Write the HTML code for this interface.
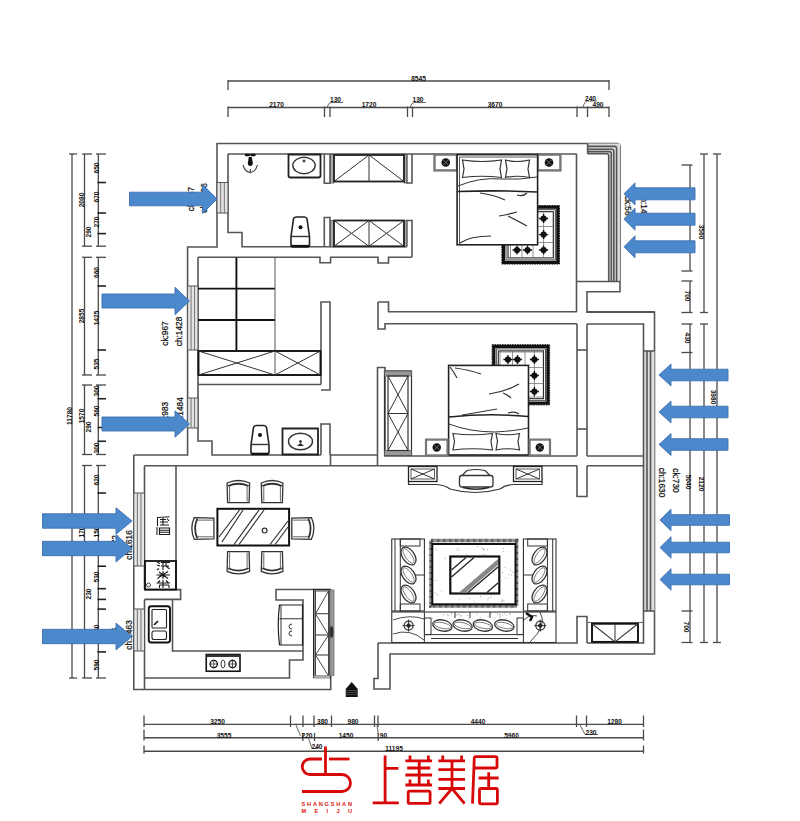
<!DOCTYPE html>
<html><head><meta charset="utf-8"><style>
html,body{margin:0;padding:0;background:#fff;}
svg{display:block;}
.w line,.w polyline,.w polygon,.w rect,.w path{fill:none;stroke:#555;stroke-width:1.6;}
.dim line{stroke:#4a4a4a;stroke-width:1.3;}
.tick line{stroke:#222;stroke-width:1.6;}
.wn rect{fill:#e4e4e4;stroke:#555;stroke-width:1;}
.wn line{stroke:#666;stroke-width:0.9;}
.f line,.f polyline,.f polygon,.f rect,.f path,.f circle,.f ellipse{fill:none;stroke:#333;stroke-width:1;}
.f .thick{stroke:#222;stroke-width:1.8;}
.fd line,.fd polyline,.fd rect,.fd path{fill:none;stroke:#111;stroke-width:1.8;}
.ar{fill:#4b88cc;stroke:#3d70b0;stroke-width:0.9;}
.t{font-family:"Liberation Sans",sans-serif;fill:#111;text-anchor:middle;font-weight:bold;}
.red line,.red path,.red polyline,.red rect{fill:none;stroke:#d80808;stroke-width:2.8;stroke-linecap:butt;}
</style></head><body>
<svg width="800" height="821" viewBox="0 0 800 821">
<g class="dim">
<line x1="228" y1="81" x2="609" y2="81"/>
<line x1="228" y1="80" x2="228" y2="90"/>
<line x1="609" y1="80" x2="609" y2="90"/>
<line x1="228" y1="107.5" x2="609" y2="107.5"/>
<line x1="228" y1="106.5" x2="228" y2="117"/>
<line x1="324.5" y1="106.5" x2="324.5" y2="117"/>
<line x1="330" y1="106.5" x2="330" y2="117"/>
<line x1="407.5" y1="106.5" x2="407.5" y2="117"/>
<line x1="412.5" y1="106.5" x2="412.5" y2="117"/>
<line x1="577" y1="106.5" x2="577" y2="117"/>
<line x1="587.5" y1="106.5" x2="587.5" y2="117"/>
<line x1="609" y1="106.5" x2="609" y2="117"/>
<path d="M327,107.5 Q328.5,102.5 331,102.5 H343 M410,107.5 Q411.5,102.5 414,102.5 H426 M583,107.5 Q584.5,101 587,101 H597" style="fill:none;stroke:#555;stroke-width:0.9"/>
</g>
<text x="418.5" y="81" class="t" font-size="6.6">8545</text>
<text x="276.5" y="107" class="t" font-size="6.6">2170</text>
<text x="335.5" y="102" class="t" font-size="6.6">130</text>
<text x="369" y="107" class="t" font-size="6.6">1720</text>
<text x="418" y="102" class="t" font-size="6.6">130</text>
<text x="495" y="107" class="t" font-size="6.6">3670</text>
<text x="590.5" y="100.5" class="t" font-size="6.6">240</text>
<text x="598" y="106.5" class="t" font-size="6.6">490</text>
<g class="dim">
<line x1="144" y1="724.4" x2="643.5" y2="724.4"/>
<line x1="144" y1="737.75" x2="643.5" y2="737.75"/>
<line x1="144" y1="751.25" x2="643.5" y2="751.25"/>
<line x1="144" y1="715.5" x2="144" y2="727"/>
<line x1="290.5" y1="715.5" x2="290.5" y2="727"/>
<line x1="303" y1="715.5" x2="303" y2="727"/>
<line x1="314" y1="715.5" x2="314" y2="727"/>
<line x1="331.5" y1="715.5" x2="331.5" y2="727"/>
<line x1="374.5" y1="715.5" x2="374.5" y2="727"/>
<line x1="378" y1="715.5" x2="378" y2="727"/>
<line x1="576.5" y1="715.5" x2="576.5" y2="727"/>
<line x1="586.5" y1="715.5" x2="586.5" y2="727"/>
<line x1="643.5" y1="715.5" x2="643.5" y2="727"/>
<line x1="144" y1="729.5" x2="144" y2="740.5"/>
<line x1="144" y1="745.5" x2="144" y2="753.5"/>
<line x1="643.5" y1="729.5" x2="643.5" y2="740.5"/>
<line x1="643.5" y1="745.5" x2="643.5" y2="753.5"/>
</g>
<path d="M580,725 L585,734.5 H598 M296,725 L300.5,736 M308.5,738.5 L312,748.5 H318 M377,725 L378.5,735.5" style="fill:none;stroke:#555;stroke-width:0.9"/>
<line x1="302.8" y1="733" x2="302.8" y2="741" style="stroke:#4a4a4a;stroke-width:1.3"/>
<line x1="314.5" y1="733" x2="314.5" y2="741" style="stroke:#4a4a4a;stroke-width:1.3"/>
<line x1="378.2" y1="733" x2="378.2" y2="741" style="stroke:#4a4a4a;stroke-width:1.3"/>
<text x="217.5" y="724" class="t" font-size="6.6">3250</text>
<text x="478" y="724" class="t" font-size="6.6">4440</text>
<text x="614.5" y="724" class="t" font-size="6.6">1280</text>
<text x="322.5" y="724" class="t" font-size="6.6">380</text>
<text x="353" y="724" class="t" font-size="6.6">980</text>
<text x="224" y="737.5" class="t" font-size="6.6">3555</text>
<text x="307" y="737.5" class="t" font-size="6.6">220</text>
<text x="346" y="737.5" class="t" font-size="6.6">1450</text>
<text x="383.5" y="737.5" class="t" font-size="6.6">90</text>
<text x="511.5" y="737.5" class="t" font-size="6.6">5960</text>
<text x="591" y="734.5" class="t" font-size="6.6">230</text>
<text x="317" y="749" class="t" font-size="6.6">240</text>
<text x="394" y="750.5" class="t" font-size="6.6">11195</text>
<g class="dim">
<line x1="72" y1="154" x2="72" y2="678"/>
<line x1="69" y1="154" x2="77" y2="154"/>
<line x1="69" y1="678" x2="77" y2="678"/>
<line x1="84.5" y1="154" x2="84.5" y2="246.2"/>
<line x1="84.5" y1="257.3" x2="84.5" y2="375"/>
<line x1="84.5" y1="385" x2="84.5" y2="454.5"/>
<line x1="84.5" y1="465.5" x2="84.5" y2="678"/>
<line x1="98.3" y1="154" x2="98.3" y2="246.2"/>
<line x1="98.3" y1="257.3" x2="98.3" y2="375"/>
<line x1="98.3" y1="385" x2="98.3" y2="454.5"/>
<line x1="98.3" y1="465.5" x2="98.3" y2="678"/>
<line x1="82" y1="154" x2="92" y2="154"/>
<line x1="96" y1="154" x2="106" y2="154"/>
<line x1="82" y1="246.2" x2="92" y2="246.2"/>
<line x1="96" y1="246.2" x2="106" y2="246.2"/>
<line x1="82" y1="257.3" x2="92" y2="257.3"/>
<line x1="96" y1="257.3" x2="106" y2="257.3"/>
<line x1="82" y1="375" x2="92" y2="375"/>
<line x1="96" y1="375" x2="106" y2="375"/>
<line x1="82" y1="385" x2="92" y2="385"/>
<line x1="96" y1="385" x2="106" y2="385"/>
<line x1="82" y1="454.5" x2="92" y2="454.5"/>
<line x1="96" y1="454.5" x2="106" y2="454.5"/>
<line x1="82" y1="465.5" x2="92" y2="465.5"/>
<line x1="96" y1="465.5" x2="106" y2="465.5"/>
<line x1="82" y1="678" x2="92" y2="678"/>
<line x1="96" y1="678" x2="106" y2="678"/>
</g>
<g class="tick">
<line x1="97.5" y1="182.5" x2="106" y2="182.5"/>
<line x1="97.5" y1="213" x2="106" y2="213"/>
<line x1="97.5" y1="233.6" x2="106" y2="233.6"/>
<line x1="97.5" y1="286" x2="106" y2="286"/>
<line x1="97.5" y1="350" x2="106" y2="350"/>
<line x1="97.5" y1="398.75" x2="106" y2="398.75"/>
<line x1="97.5" y1="427.5" x2="106" y2="427.5"/>
<line x1="97.5" y1="441.25" x2="106" y2="441.25"/>
<line x1="97.5" y1="493" x2="106" y2="493"/>
<line x1="97.5" y1="566.2" x2="106" y2="566.2"/>
<line x1="97.5" y1="588.7" x2="106" y2="588.7"/>
<line x1="97.5" y1="599.4" x2="106" y2="599.4"/>
<line x1="97.5" y1="609.1" x2="106" y2="609.1"/>
<line x1="97.5" y1="651.9" x2="106" y2="651.9"/>
</g>
<text x="84" y="200" class="t" font-size="6.6" transform="rotate(-90 84 200)">2080</text>
<text x="99" y="168" class="t" font-size="6.6" transform="rotate(-90 99 168)">650</text>
<text x="99" y="197" class="t" font-size="6.6" transform="rotate(-90 99 197)">670</text>
<text x="99" y="222" class="t" font-size="6.6" transform="rotate(-90 99 222)">270</text>
<text x="91" y="232" class="t" font-size="6.6" transform="rotate(-90 91 232)">290</text>
<text x="99" y="272.5" class="t" font-size="6.6" transform="rotate(-90 99 272.5)">660</text>
<text x="84" y="316" class="t" font-size="6.6" transform="rotate(-90 84 316)">2855</text>
<text x="99" y="318" class="t" font-size="6.6" transform="rotate(-90 99 318)">1425</text>
<text x="99" y="364" class="t" font-size="6.6" transform="rotate(-90 99 364)">535</text>
<text x="99" y="391" class="t" font-size="6.6" transform="rotate(-90 99 391)">300</text>
<text x="99" y="411" class="t" font-size="6.6" transform="rotate(-90 99 411)">560</text>
<text x="84" y="416" class="t" font-size="6.6" transform="rotate(-90 84 416)">1570</text>
<text x="91" y="427" class="t" font-size="6.6" transform="rotate(-90 91 427)">290</text>
<text x="99" y="448" class="t" font-size="6.6" transform="rotate(-90 99 448)">300</text>
<text x="71.5" y="416" class="t" font-size="6.6" transform="rotate(-90 71.5 416)">11780</text>
<text x="99" y="480" class="t" font-size="6.6" transform="rotate(-90 99 480)">620</text>
<text x="84" y="532" class="t" font-size="6.6" transform="rotate(-90 84 532)">170</text>
<text x="99" y="532" class="t" font-size="6.6" transform="rotate(-90 99 532)">150</text>
<text x="99" y="577" class="t" font-size="6.6" transform="rotate(-90 99 577)">530</text>
<text x="91" y="594" class="t" font-size="6.6" transform="rotate(-90 91 594)">230</text>
<text x="99" y="630" class="t" font-size="6.6" transform="rotate(-90 99 630)">530</text>
<text x="99" y="665" class="t" font-size="6.6" transform="rotate(-90 99 665)">590</text>
<g class="dim">
<line x1="690" y1="165" x2="690" y2="271"/>
<line x1="690" y1="281" x2="690" y2="312.5"/>
<line x1="690" y1="324" x2="690" y2="642.5"/>
<line x1="704" y1="154" x2="704" y2="312.5"/>
<line x1="704" y1="324" x2="704" y2="642.5"/>
<line x1="717" y1="154" x2="717" y2="642.5"/>
<line x1="681.5" y1="165" x2="692.5" y2="165"/>
<line x1="681.5" y1="271" x2="692.5" y2="271"/>
<line x1="681.5" y1="281" x2="692.5" y2="281"/>
<line x1="681.5" y1="312.5" x2="692.5" y2="312.5"/>
<line x1="681.5" y1="324" x2="692.5" y2="324"/>
<line x1="681.5" y1="352.5" x2="692.5" y2="352.5"/>
<line x1="681.5" y1="611" x2="692.5" y2="611"/>
<line x1="681.5" y1="642.5" x2="692.5" y2="642.5"/>
<line x1="700" y1="154" x2="708" y2="154"/>
<line x1="700" y1="312.5" x2="708" y2="312.5"/>
<line x1="700" y1="324" x2="708" y2="324"/>
<line x1="700" y1="642.5" x2="708" y2="642.5"/>
<line x1="713" y1="154" x2="721" y2="154"/>
<line x1="713" y1="642.5" x2="721" y2="642.5"/>
</g>
<text x="699" y="232" class="t" font-size="6.6" transform="rotate(90 699 232)">3560</text>
<text x="685" y="296" class="t" font-size="6.6" transform="rotate(90 685 296)">700</text>
<text x="685" y="338" class="t" font-size="6.6" transform="rotate(90 685 338)">430</text>
<text x="710.5" y="397" class="t" font-size="6.6" transform="rotate(90 710.5 397)">3980</text>
<text x="685.5" y="482" class="t" font-size="6.6" transform="rotate(90 685.5 482)">5040</text>
<text x="698.5" y="484" class="t" font-size="6.6" transform="rotate(90 698.5 484)">2120</text>
<text x="684" y="627" class="t" font-size="6.6" transform="rotate(90 684 627)">700</text>
<g class="w">
<path d="M133.8,455 L187.6,455 L187.6,247 L217,247 L217,143.5 L617,143.5 Q620,143.5 620,146.5 L620,291.7 L587,291.7 L587,312.2 L654.5,312.2 L654.5,654 L390,654 L390,689 L374,689 L374,678.5 L378,678.5 L378,643"/>
<polyline points="330.7,589.5 330.7,689.5 133.8,689.5 133.8,455"/>
<polyline points="228,154 576.5,154"/>
<polyline points="228,154 228,232.5 242,232.5 242,246.8 406.8,246.8"/>
<polyline points="324.3,154 324.3,183.2 330,183.2 330,154"/>
<polyline points="406.8,154 406.8,183 412,183 412,154"/>
<polyline points="324.3,246.8 324.3,217.5 330,217.5 330,246.8"/>
<polyline points="406.8,246.8 406.8,220.5 412,220.5 412,257"/>
<polyline points="198,257.3 320,257.3 320,262.8 330.6,262.8 330.6,257.3 378,257.3 378,263 388.5,263 388.5,257.3 412,257.3"/>
<path d="M587.6,143.5 L620,143.5 L620,281.5 L608.7,281.5 L608.7,153.8 L587.6,153.8 Z" style="fill:#dcdcdc;stroke:none"/>
<rect x="643.5" y="351" width="11" height="260" style="fill:#dcdcdc;stroke:none"/>
<polyline points="576.5,153.8 576.5,312.2"/>
<polyline points="576.5,281.5 620,281.5"/>
<line x1="587.6" y1="143.5" x2="587.6" y2="153.8"/>
<path d="M587.6,146.4 L614.6,146.4 Q616.6,146.4 616.6,148.4 L616.6,281.5" />
<path d="M587.6,149.2 L611.8,149.2 Q613.8,149.2 613.8,151.2 L613.8,281.5" />
<path d="M587.6,151.6 L609.3,151.6 Q611.3,151.6 611.3,153.6 L611.3,281.5" />
<path d="M587.6,153.8 L606.7,153.8 Q608.7,153.8 608.7,155.8 L608.7,281.5" />
<polyline points="198,257.3 198,441 212,441 212,455 321,455"/>
<polyline points="198,384.5 321,384.5"/>
<polyline points="321,384.5 321,302 330,302 330,390 321,390"/>
<polyline points="321,455 321,424 330,424 330,455"/>
<polyline points="330,455 377.5,455"/>
<line x1="330.5" y1="455" x2="330.5" y2="465.7"/>
<polyline points="144.5,689 144.5,599.4"/>
<line x1="144.5" y1="465.7" x2="577" y2="465.7"/>
<polyline points="144.5,465.7 144.5,589.6"/>
<polyline points="377.5,465.7 377.5,367.5 385,367.5 385,456 577,456"/>
<polyline points="378,302 388.5,302 388.5,311.7 576.5,311.7"/>
<polyline points="378,302 378,329 385,329 385,323.7 577,323.7"/>
<polyline points="577,323.7 577,456"/>
<polyline points="587,324 587,456"/>
<line x1="577" y1="350" x2="587" y2="350"/>
<line x1="577" y1="429" x2="587" y2="429"/>
<polyline points="577,465.7 577,496.5 587,496.5 587,465.7"/>
<polyline points="587,311.7 654.5,311.7"/>
<polyline points="587,324 643.5,324 643.5,351"/>
<line x1="587" y1="456" x2="643.5" y2="456"/>
<line x1="587" y1="465.7" x2="643.5" y2="465.7"/>
<line x1="643.5" y1="351" x2="643.5" y2="611"/>
<line x1="647" y1="351" x2="647" y2="611"/>
<line x1="650.5" y1="351" x2="650.5" y2="611"/>
<line x1="643.5" y1="351" x2="654.5" y2="351"/>
<line x1="643.5" y1="611" x2="654.5" y2="611"/>
<polyline points="643.5,611 643.5,643 587,643"/>
<polyline points="378,643 577,643 577,616.5 587,616.5 587,643"/>
<polyline points="144.5,589.6 180.6,589.6 180.6,599.4 144.5,599.4"/>
<polyline points="172.5,599.4 172.5,651 303,651 303,600 276,600 276,589.5 313.8,589.5"/>
<polyline points="303,651 303,660 289.5,660 289.5,678 144.5,678"/>
<line x1="176" y1="465.7" x2="176" y2="589.6"/>
</g>
<g class="wn">
<rect x="217" y="182.5" width="11" height="30.5"/>
<line x1="220.66666666666666" y1="182.5" x2="220.66666666666666" y2="213"/>
<line x1="224.33333333333334" y1="182.5" x2="224.33333333333334" y2="213"/>
<rect x="187.6" y="286" width="10.4" height="64"/>
<line x1="191.06666666666666" y1="286" x2="191.06666666666666" y2="350"/>
<line x1="194.53333333333333" y1="286" x2="194.53333333333333" y2="350"/>
<rect x="187.6" y="398" width="10.4" height="30"/>
<line x1="191.06666666666666" y1="398" x2="191.06666666666666" y2="428"/>
<line x1="194.53333333333333" y1="398" x2="194.53333333333333" y2="428"/>
<rect x="133.8" y="493" width="10.7" height="73"/>
<line x1="137.36666666666667" y1="493" x2="137.36666666666667" y2="566"/>
<line x1="140.93333333333334" y1="493" x2="140.93333333333334" y2="566"/>
<rect x="133.8" y="609" width="10.7" height="42"/>
<line x1="137.36666666666667" y1="609" x2="137.36666666666667" y2="651"/>
<line x1="140.93333333333334" y1="609" x2="140.93333333333334" y2="651"/>
</g>
<g class="f">
<path d="M288.5,154.5 L320.5,154.5 L320.5,175.5 Q320.5,177.5 318.5,177.5 L290.5,177.5 Q288.5,177.5 288.5,175.5 Z" class="thick"/>
<ellipse cx="304" cy="165.5" rx="11.2" ry="8.2" style="stroke-width:1.4"/>
<circle cx="304" cy="161" r="1" style="fill:#222"/>
<path d="M296.5,217 L304.5,217 Q306.5,217 307,219 L309.5,236.5 L309.5,245 Q309.5,247 307.5,247 L293,247 Q291,247 291,245 L291,236.5 L293.5,219 Q294,217 296.5,217 Z" style="stroke-width:1.6;stroke:#222"/>
<line x1="291" y1="236.5" x2="309.5" y2="236.5" style="stroke-width:1.4"/>
<line x1="291.5" y1="246" x2="309" y2="246" style="stroke-width:2.2;stroke:#111"/>
<circle cx="300.5" cy="227.3" r="2" style="fill:#111;stroke:none"/>
<path d="M246,155 h3 M251.5,155 h3" style="stroke:#111;stroke-width:2.4;stroke-linecap:round"/>
<path d="M248.8,157 L251.8,157 L252.8,163 Q252.8,166 250.3,166 Q247.8,166 247.8,163 Z" style="fill:#111;stroke:none"/>
<path d="M243,165 Q245,172 250.3,172.5 Q255.5,172 257.5,165 M250.3,169 V173.5" style="stroke-width:1.1;stroke:#444"/>
<rect x="330.6" y="154.5" width="3.4" height="28.5" style="fill:#aaa;stroke:#555;stroke-width:0.8"/>
<rect x="404" y="154.5" width="2.8" height="28.5" style="fill:#aaa;stroke:#555;stroke-width:0.8"/>
<rect x="334" y="155" width="70" height="26.5" style="stroke:#222;stroke-width:1.8"/>
<line x1="369" y1="155" x2="369" y2="181.5"/>
<line x1="334" y1="181.5" x2="369" y2="155"/>
<line x1="369" y1="155" x2="404" y2="181.5"/>
<rect x="330.6" y="220.5" width="3.4" height="26.3" style="fill:#aaa;stroke:#555;stroke-width:0.8"/>
<rect x="404" y="220.5" width="2.8" height="26.3" style="fill:#aaa;stroke:#555;stroke-width:0.8"/>
<rect x="334" y="220.5" width="70" height="25.8" style="stroke:#222;stroke-width:1.8"/>
<line x1="369" y1="220.5" x2="369" y2="246.3"/>
<line x1="334" y1="220.5" x2="369" y2="246.3"/>
<line x1="369" y1="220.5" x2="334" y2="246.3"/>
<line x1="369" y1="220.5" x2="404" y2="246.3"/>
<line x1="404" y1="220.5" x2="369" y2="246.3"/>
</g>
<g class="f">
<rect x="434.5" y="154.6" width="22.5" height="15.8" style="fill:#fff;stroke:#777;stroke-width:2.4"/>
<circle cx="445.75" cy="162.5" r="4.3" style="fill:#111;stroke:none"/>
<path d="M442.75,159.5l6,6M448.75,159.5l-6,6" style="stroke:#aaa;stroke-width:0.6"/>
<rect x="537.6" y="154.6" width="22.8" height="15.8" style="fill:#fff;stroke:#777;stroke-width:2.4"/>
<circle cx="549.0" cy="162.5" r="4.3" style="fill:#111;stroke:none"/>
<path d="M546.0,159.5l6,6M552.0,159.5l-6,6" style="stroke:#aaa;stroke-width:0.6"/>
<rect x="503.5" y="207.2" width="54.299999999999955" height="55.19999999999999" style="fill:#fff;stroke:#111;stroke-width:3.2"/>
<rect x="501.8" y="205.5" width="57.69999999999995" height="58.59999999999999" style="fill:none;stroke:#111;stroke-width:1;stroke-dasharray:1.5 1"/>
<rect x="506" y="209.7" width="49.299999999999955" height="50.19999999999999" style="fill:none;stroke:#333;stroke-width:0.9"/>
<rect x="508" y="211.7" width="45.299999999999955" height="46.19999999999999" style="fill:none;stroke:#222;stroke-width:1.1"/>
<path d="M510.5,211.7V257.9M522,211.7V257.9M533,211.7V257.9M543.6,211.7V257.9M508,226.5H553.3M508,242.5H553.3" style="fill:none;stroke:#777;stroke-width:0.8"/>
<circle cx="543.6" cy="218.5" r="3.1" style="fill:#111;stroke:none"/>
<path d="M539.1,218.5H548.1M543.6,214.0V223.0" style="fill:none;stroke:#111;stroke-width:1.3"/>
<circle cx="543.6" cy="234.6" r="3.1" style="fill:#111;stroke:none"/>
<path d="M539.1,234.6H548.1M543.6,230.1V239.1" style="fill:none;stroke:#111;stroke-width:1.3"/>
<circle cx="543.6" cy="250" r="3.1" style="fill:#111;stroke:none"/>
<path d="M539.1,250H548.1M543.6,245.5V254.5" style="fill:none;stroke:#111;stroke-width:1.3"/>
<circle cx="517" cy="250" r="3.1" style="fill:#111;stroke:none"/>
<path d="M512.5,250H521.5M517,245.5V254.5" style="fill:none;stroke:#111;stroke-width:1.3"/>
<circle cx="527.5" cy="250" r="3.1" style="fill:#111;stroke:none"/>
<path d="M523.0,250H532.0M527.5,245.5V254.5" style="fill:none;stroke:#111;stroke-width:1.3"/>
<rect x="457.1" y="154.6" width="80.5" height="90.2" style="fill:#fff;stroke:#222;stroke-width:1.6"/>
<line x1="459.5" y1="157" x2="459.5" y2="244.5" style="stroke:#555"/>
<line x1="459.5" y1="157" x2="537.6" y2="157" style="stroke:#555"/>
<path d="M462.5,160 Q482,163 501.5,160 L500,169 L501.5,177.5 Q482,175 462.5,177.5 L464,169 Z" style="stroke-width:1.2"/>
<path d="M505.5,160 Q517,163 529.5,160 L528,169 L529.5,177.5 Q517,175 505.5,177.5 L507,169 Z" style="stroke-width:1.2"/>
<path d="M458,186 Q480,177 500,179 Q520,180 537,177" style="stroke-width:1"/>
<path d="M458,191.5 Q500,190 537,192" style="stroke-width:1.6;stroke:#222"/>
<path d="M480,193 Q495,195 505,200 M517,195 Q523,197 527,193 M499,216 Q510,214 517,212 M508,216 Q520,222 527,226 M460,243 Q470,236 491,236" style="stroke-width:1.2"/>
</g>
<g class="f">
<g style="stroke:#111">
<line x1="236.4" y1="257.6" x2="236.4" y2="351" style="stroke:#111;stroke-width:1.9"/>
<line x1="198" y1="288.6" x2="275" y2="288.6" style="stroke:#111;stroke-width:1.9"/>
<line x1="198" y1="320" x2="275" y2="320" style="stroke:#111;stroke-width:1.9"/>
</g>
<line x1="275" y1="257.6" x2="275" y2="375" style="stroke:#555;stroke-width:1"/>
<rect x="198.5" y="351" width="122.0" height="24" style="stroke:#111;stroke-width:1.9"/>
<line x1="198.5" y1="351" x2="275" y2="375"/>
<line x1="198.5" y1="375" x2="275" y2="351"/>
<line x1="275" y1="351" x2="320.5" y2="375"/>
<line x1="275" y1="375" x2="320.5" y2="351"/>
<path d="M256.5,425.5 L264,425.5 Q266,425.5 266.5,427.5 L269,445 L269,452 Q269,454.5 267,454.5 L253,454.5 Q251,454.5 251,452 L251,445 L253.5,427.5 Q254,425.5 256.5,425.5 Z" style="stroke-width:1.6;stroke:#222"/>
<line x1="251" y1="444.5" x2="269" y2="444.5" style="stroke-width:1.4"/>
<line x1="251.5" y1="453.8" x2="268.5" y2="453.8" style="stroke-width:2.2;stroke:#111"/>
<circle cx="260" cy="435" r="2" style="fill:#111;stroke:none"/>
<path d="M282.5,428.5 L318,428.5 L318,454.5 L282.5,454.5 Z" style="stroke:#222;stroke-width:1.8"/>
<ellipse cx="300.5" cy="441.5" rx="12" ry="8.2" style="stroke-width:1.4"/>
<circle cx="300.5" cy="441.5" r="1" style="fill:#222"/>
<path d="M297,446 L300.5,443 L304,446 Z" style="fill:#222;stroke:none"/>
</g>
<g class="f">
<rect x="384.5" y="371" width="27.0" height="84.4" style="stroke:#333;stroke-width:1.2"/>
<rect x="384.5" y="371" width="27.0" height="5" style="fill:#999;stroke:#555;stroke-width:0.8"/>
<rect x="384.5" y="450.5" width="27.0" height="4.9" style="fill:#999;stroke:#555;stroke-width:0.8"/>
<rect x="388" y="376" width="20" height="74.5" style="stroke:#333;stroke-width:1.2"/>
<line x1="388" y1="413.5" x2="408" y2="413.5"/>
<line x1="388" y1="376" x2="408" y2="413.5"/>
<line x1="408" y1="376" x2="388" y2="413.5"/>
<line x1="388" y1="413.5" x2="408" y2="450.5"/>
<line x1="408" y1="413.5" x2="388" y2="450.5"/>
<rect x="493.8" y="346.4" width="54.099999999999966" height="56.80000000000001" style="fill:#fff;stroke:#111;stroke-width:3.2"/>
<rect x="492.1" y="344.7" width="57.499999999999964" height="60.20000000000001" style="fill:none;stroke:#111;stroke-width:1;stroke-dasharray:1.5 1"/>
<rect x="496.3" y="348.9" width="49.099999999999966" height="51.80000000000001" style="fill:none;stroke:#333;stroke-width:0.9"/>
<rect x="498.3" y="350.9" width="45.099999999999966" height="47.80000000000001" style="fill:none;stroke:#222;stroke-width:1.1"/>
<path d="M500,350.9V398.7M512.5,350.9V398.7M525,350.9V398.7M534.4,350.9V398.7M498.3,352H543.4M498.3,367.5H543.4M498.3,383.5H543.4M498.3,397H543.4" style="fill:none;stroke:#777;stroke-width:0.8"/>
<circle cx="507.9" cy="359.5" r="3.1" style="fill:#111;stroke:none"/>
<path d="M503.4,359.5H512.4M507.9,355.0V364.0" style="fill:none;stroke:#111;stroke-width:1.3"/>
<circle cx="517.5" cy="359.5" r="3.1" style="fill:#111;stroke:none"/>
<path d="M513.0,359.5H522.0M517.5,355.0V364.0" style="fill:none;stroke:#111;stroke-width:1.3"/>
<circle cx="534.4" cy="359.5" r="3.1" style="fill:#111;stroke:none"/>
<path d="M529.9,359.5H538.9M534.4,355.0V364.0" style="fill:none;stroke:#111;stroke-width:1.3"/>
<circle cx="534.4" cy="375.5" r="3.1" style="fill:#111;stroke:none"/>
<path d="M529.9,375.5H538.9M534.4,371.0V380.0" style="fill:none;stroke:#111;stroke-width:1.3"/>
<circle cx="534.4" cy="391.5" r="3.1" style="fill:#111;stroke:none"/>
<path d="M529.9,391.5H538.9M534.4,387.0V396.0" style="fill:none;stroke:#111;stroke-width:1.3"/>
<rect x="448.6" y="365.4" width="79.9" height="89.6" style="fill:#fff;stroke:#222;stroke-width:1.6"/>
<path d="M449,417 Q490,413 528,416.5" style="stroke:#222;stroke-width:1.5"/>
<path d="M449,424 Q470,432 495,432 Q515,431 528,428" style="stroke-width:1"/>
<path d="M453,433.5 Q472,436 492.5,433.5 L491,441.5 L492.5,450 Q472,447.5 453,450 L454.5,441.5 Z" style="stroke-width:1.2"/>
<path d="M496,433.5 Q507,436 519.5,433.5 L518,441.5 L519.5,450 Q507,447.5 496,450 L497.5,441.5 Z" style="stroke-width:1.2"/>
<path d="M450,367 Q454,372 457,378 M455,368 Q470,370 481,374 M489,394 Q505,392 519,384 M503,393 Q508,395 511,398 M462,415 Q480,412 497,409 M508,413 Q515,411 519,414" style="stroke-width:1.2"/>
<rect x="426" y="439.6" width="21.5" height="15.8" style="fill:#fff;stroke:#777;stroke-width:2.2"/>
<circle cx="436.75" cy="447.5" r="4.2" style="fill:#111;stroke:none"/>
<path d="M433.75,444.5l6,6M439.75,444.5l-6,6" style="stroke:#aaa;stroke-width:0.6"/>
<rect x="529.6" y="439.6" width="20.4" height="15.8" style="fill:#fff;stroke:#777;stroke-width:2.2"/>
<circle cx="539.8" cy="447.5" r="4.2" style="fill:#111;stroke:none"/>
<path d="M536.8,444.5l6,6M542.8,444.5l-6,6" style="stroke:#aaa;stroke-width:0.6"/>
</g>
<g class="f">
<rect x="408.5" y="466.5" width="28.5" height="15.0" style="stroke:#222;stroke-width:1.3"/>
<line x1="411" y1="469" x2="434.5" y2="479"/>
<line x1="434.5" y1="469" x2="411" y2="479"/>
<rect x="411" y="469" width="23.5" height="10" style="stroke-width:0.8"/>
<rect x="513.5" y="466.5" width="28.5" height="15.0" style="stroke:#222;stroke-width:1.3"/>
<line x1="516" y1="469" x2="539.5" y2="479"/>
<line x1="539.5" y1="469" x2="516" y2="479"/>
<rect x="516" y="469" width="23.5" height="10" style="stroke-width:0.8"/>
<path d="M408.5,481.5 L408.5,484.5 L436,484.5 Q445,485 450,489 Q475,496 500,489 Q505,485 514,484.5 L542,484.5 L542,481.5" style="stroke-width:1.2"/>
<path d="M462,475.5 L467,470.5 Q476,468.5 485,470.5 L490,475.5" style="stroke-width:1.2"/>
<rect x="459.5" y="475.5" width="33.5" height="11.5" rx="2.5" style="fill:#fff;stroke:#333;stroke-width:1.3"/>
<path d="M463,487.5 Q476,491 489,487.5" style="stroke:#222;stroke-width:1.6"/>
</g>
<g class="f">
<rect x="391.75" y="539" width="32.65" height="72" style="stroke:#333;stroke-width:1.1"/>
<line x1="395" y1="539" x2="395" y2="611"/>
<line x1="400.3" y1="539" x2="400.3" y2="611"/>
<rect x="400.3" y="539" width="19.7" height="7"/>
<rect x="400.3" y="604" width="19.7" height="7"/>
<line x1="400.3" y1="575" x2="424.4" y2="575"/>
<ellipse cx="408.5" cy="556" rx="6" ry="10" transform="rotate(-35 408.5 556)" style="fill:#fff;stroke-width:1.3"/>
<ellipse cx="408.5" cy="556" rx="3.2" ry="8.6" transform="rotate(-35 408.5 556)" style="stroke-width:0.7;stroke:#555"/>
<ellipse cx="408.5" cy="575" rx="6" ry="10" transform="rotate(-35 408.5 575)" style="fill:#fff;stroke-width:1.3"/>
<ellipse cx="408.5" cy="575" rx="3.2" ry="8.6" transform="rotate(-35 408.5 575)" style="stroke-width:0.7;stroke:#555"/>
<ellipse cx="408.5" cy="594" rx="6" ry="10" transform="rotate(-35 408.5 594)" style="fill:#fff;stroke-width:1.3"/>
<ellipse cx="408.5" cy="594" rx="3.2" ry="8.6" transform="rotate(-35 408.5 594)" style="stroke-width:0.7;stroke:#555"/>
<rect x="523.4" y="539" width="32.6" height="72" style="stroke:#333;stroke-width:1.1"/>
<line x1="552.7" y1="539" x2="552.7" y2="611"/>
<line x1="547.4" y1="539" x2="547.4" y2="611"/>
<rect x="527.7" y="539" width="19.7" height="7"/>
<rect x="527.7" y="604" width="19.7" height="7"/>
<line x1="523.4" y1="575" x2="547.4" y2="575"/>
<ellipse cx="539.5" cy="556" rx="6" ry="10" transform="rotate(35 539.5 556)" style="fill:#fff;stroke-width:1.3"/>
<ellipse cx="539.5" cy="556" rx="3.2" ry="8.6" transform="rotate(35 539.5 556)" style="stroke-width:0.7;stroke:#555"/>
<ellipse cx="539.5" cy="575" rx="6" ry="10" transform="rotate(35 539.5 575)" style="fill:#fff;stroke-width:1.3"/>
<ellipse cx="539.5" cy="575" rx="3.2" ry="8.6" transform="rotate(35 539.5 575)" style="stroke-width:0.7;stroke:#555"/>
<ellipse cx="539.5" cy="594" rx="6" ry="10" transform="rotate(35 539.5 594)" style="fill:#fff;stroke-width:1.3"/>
<ellipse cx="539.5" cy="594" rx="3.2" ry="8.6" transform="rotate(35 539.5 594)" style="stroke-width:0.7;stroke:#555"/>
<rect x="431" y="540.5" width="85.6" height="65.5" style="stroke:#222;stroke-width:3.5;stroke-dasharray:0.7 0.5"/>
<rect x="432.3" y="544" width="83.2" height="60.3" style="fill:#fff;stroke:#111;stroke-width:2"/>
<rect x="450.3" y="556.5" width="49.0" height="37.0" style="stroke:#111;stroke-width:2.2"/>
<path d="M451.5,570 L466,557.5 M451.5,577 L474,557.5 M461,592.5 L498,561 M468,592.5 L498,567 M487,592.5 L498,583" style="stroke:#222;stroke-width:1.3"/>
<polygon points="459,592.5 498,559 498,565 466,592.5" style="fill:#888;stroke:none"/>
<path d="M483.4,549.7h0.8M435.0,592.9h0.8M512.7,572.3h0.8M484.5,554.4h0.8M487.0,549.6h0.8M457.8,547.7h0.8M502.4,572.5h0.8M490.8,595.2h0.8M490.4,597.6h0.8M469.1,598.4h0.8M503.4,551.5h0.8M444.7,558.2h0.8M510.3,570.4h0.8M480.2,596.6h0.8M487.9,598.0h0.8M501.7,601.5h0.8M502.0,600.0h0.8M505.5,577.9h0.8M456.5,549.6h0.8M501.5,601.4h0.8M441.0,590.8h0.8M466.4,554.4h0.8M502.9,548.5h0.8M482.5,548.5h0.8M503.6,600.9h0.8M473.9,601.9h0.8M458.5,550.3h0.8M481.4,547.8h0.8M482.2,554.7h0.8M437.4,594.6h0.8M458.8,599.7h0.8M504.8,567.2h0.8M508.3,574.4h0.8M511.2,575.2h0.8M477.3,546.6h0.8M435.6,580.5h0.8M483.9,549.4h0.8M435.8,549.4h0.8M487.4,599.9h0.8" style="stroke:#777;stroke-width:0.8"/>
<rect x="391.75" y="612" width="164.25" height="30.5" style="stroke:#333;stroke-width:1.1"/>
<line x1="424.4" y1="612" x2="424.4" y2="642.5"/>
<line x1="523.4" y1="612" x2="523.4" y2="642.5"/>
<line x1="424.4" y1="634.6" x2="523.4" y2="634.6"/>
<line x1="431" y1="638.5" x2="518" y2="638.5"/>
<rect x="424.4" y="618" width="6.6" height="16.6"/>
<rect x="517" y="618" width="6.4" height="16.6"/>
<line x1="455" y1="612" x2="455" y2="618"/>
<line x1="470" y1="612" x2="470" y2="618"/>
<line x1="490" y1="612" x2="490" y2="618"/>
<path d="M496.9,613.2h0.8M479.8,617.4h0.8M458.0,614.3h0.8M499.5,614.4h0.8M447.7,615.6h0.8M490.6,613.6h0.8M459.0,615.0h0.8M502.0,615.6h0.8M503.9,614.0h0.8M460.3,616.9h0.8M506.3,615.7h0.8M450.9,613.7h0.8M476.5,614.1h0.8M499.8,618.0h0.8M447.4,614.7h0.8M499.8,616.9h0.8M499.7,615.1h0.8M442.9,614.8h0.8M498.7,614.6h0.8M461.1,615.5h0.8M467.3,615.5h0.8M509.3,613.9h0.8M432.4,618.7h0.8M505.9,618.9h0.8M468.5,618.7h0.8M509.9,614.3h0.8M494.6,618.0h0.8M487.7,616.1h0.8M456.3,615.0h0.8M451.1,613.4h0.8" style="stroke:#777;stroke-width:0.8"/>
<ellipse cx="442.4" cy="625.5" rx="9.8" ry="5.5" transform="rotate(12 442.4 625.5)" style="fill:#fff;stroke-width:1.3"/>
<ellipse cx="442.4" cy="625.5" rx="8.4" ry="2.8" transform="rotate(12 442.4 625.5)" style="stroke-width:0.7;stroke:#555"/>
<ellipse cx="462.6" cy="625.5" rx="9.8" ry="5.5" transform="rotate(12 462.6 625.5)" style="fill:#fff;stroke-width:1.3"/>
<ellipse cx="462.6" cy="625.5" rx="8.4" ry="2.8" transform="rotate(12 462.6 625.5)" style="stroke-width:0.7;stroke:#555"/>
<ellipse cx="482.9" cy="625.5" rx="9.8" ry="5.5" transform="rotate(12 482.9 625.5)" style="fill:#fff;stroke-width:1.3"/>
<ellipse cx="482.9" cy="625.5" rx="8.4" ry="2.8" transform="rotate(12 482.9 625.5)" style="stroke-width:0.7;stroke:#555"/>
<ellipse cx="504.3" cy="625.5" rx="9.8" ry="5.5" transform="rotate(12 504.3 625.5)" style="fill:#fff;stroke-width:1.3"/>
<ellipse cx="504.3" cy="625.5" rx="8.4" ry="2.8" transform="rotate(12 504.3 625.5)" style="stroke-width:0.7;stroke:#555"/>
<circle cx="408.6" cy="625.6" r="4.5" style="stroke-width:1.2"/>
<line x1="402.6" y1="625.6" x2="414.6" y2="625.6"/>
<line x1="408.6" y1="619.6" x2="408.6" y2="631.6"/>
<circle cx="408.6" cy="625.6" r="1.8" style="fill:#222"/>
<circle cx="540.3" cy="625.6" r="4.5" style="stroke-width:1.2"/>
<line x1="534.3" y1="625.6" x2="546.3" y2="625.6"/>
<line x1="540.3" y1="619.6" x2="540.3" y2="631.6"/>
<circle cx="540.3" cy="625.6" r="1.8" style="fill:#222"/>
<path d="M393,620 Q410,614 424,619 M393,634 Q410,628 424,640 M524,620 Q530,614 537,616 M530,642 Q548,625 540,612" style="stroke-width:0.9"/>
<path d="M526,613 L532,617 L530,621" style="stroke:#111;stroke-width:2.5"/>
</g>
<g class="f">
<rect x="217.4" y="508.8" width="71.7" height="36.7" style="stroke:#111;stroke-width:2"/>
<path d="M219,537 L239.5,510 M222,542 L243,510 M234,544.5 L259,510 M239,544.5 L264,510 M270,544.5 L288,521 M275,544.5 L288,527" style="stroke-width:1.2"/>
<circle cx="264.6" cy="530.6" r="2.4" style="stroke-width:1.2"/>
<path d="M227.1,483 Q238.35,478 249.6,483 L249.1,502.6 L227.6,502.6 Z" style="stroke:#333;stroke-width:1.3"/>
<path d="M228.1,486 Q238.35,481.5 248.6,486" style="stroke:#333;stroke-width:1.8"/>
<line x1="229.6" y1="486" x2="229.6" y2="501.6" style="stroke:#666"/>
<line x1="247.1" y1="486" x2="247.1" y2="501.6" style="stroke:#666"/>
<path d="M261.3,483 Q272.1,478 282.9,483 L282.4,502.6 L261.8,502.6 Z" style="stroke:#333;stroke-width:1.3"/>
<path d="M262.3,486 Q272.1,481.5 281.9,486" style="stroke:#333;stroke-width:1.8"/>
<line x1="263.8" y1="486" x2="263.8" y2="501.6" style="stroke:#666"/>
<line x1="280.4" y1="486" x2="280.4" y2="501.6" style="stroke:#666"/>
<path d="M227.1,571.3 Q238.35,576.3 249.6,571.3 L249.1,551.6 L227.6,551.6 Z" style="stroke:#333;stroke-width:1.3"/>
<path d="M228.1,568.3 Q238.35,572.8 248.6,568.3" style="stroke:#333;stroke-width:1.8"/>
<line x1="229.6" y1="568.3" x2="229.6" y2="552.6" style="stroke:#666"/>
<line x1="247.1" y1="568.3" x2="247.1" y2="552.6" style="stroke:#666"/>
<path d="M261.3,571.3 Q272.1,576.3 282.9,571.3 L282.4,551.6 L261.8,551.6 Z" style="stroke:#333;stroke-width:1.3"/>
<path d="M262.3,568.3 Q272.1,572.8 281.9,568.3" style="stroke:#333;stroke-width:1.8"/>
<line x1="263.8" y1="568.3" x2="263.8" y2="552.6" style="stroke:#666"/>
<line x1="280.4" y1="568.3" x2="280.4" y2="552.6" style="stroke:#666"/>
<path d="M194.3,517.6 Q189.3,528.45 194.3,539.3 L213.9,538.8 L213.9,518.1 Z" style="stroke:#333;stroke-width:1.3"/>
<path d="M197.3,518.6 Q192.8,528.45 197.3,538.3" style="stroke:#333;stroke-width:1.8"/>
<line x1="197.3" y1="520.1" x2="212.9" y2="520.1" style="stroke:#666"/>
<line x1="197.3" y1="536.8" x2="212.9" y2="536.8" style="stroke:#666"/>
<path d="M311.4,517.6 Q316.4,528.45 311.4,539.3 L291.8,538.8 L291.8,518.1 Z" style="stroke:#333;stroke-width:1.3"/>
<path d="M308.4,518.6 Q312.9,528.45 308.4,538.3" style="stroke:#333;stroke-width:1.8"/>
<line x1="308.4" y1="520.1" x2="292.8" y2="520.1" style="stroke:#666"/>
<line x1="308.4" y1="536.8" x2="292.8" y2="536.8" style="stroke:#666"/>
</g>
<g class="f">
<rect x="148.75" y="606.25" width="21.25" height="36.25" rx="2.5" style="stroke:#111;stroke-width:1.9"/>
<rect x="152" y="609.5" width="14.5" height="18.5" rx="1" style="stroke:#222;stroke-width:1.1"/>
<rect x="152" y="631" width="14.5" height="8.5" rx="2" style="stroke:#222;stroke-width:1.1"/>
<line x1="154" y1="625" x2="158" y2="621" style="stroke:#111;stroke-width:1.6"/>
<rect x="206.25" y="654.5" width="33.75" height="16.75" style="stroke:#111;stroke-width:1.6"/>
<rect x="206.25" y="654.5" width="33.75" height="2.5" style="fill:#333;stroke:none"/>
<circle cx="213.75" cy="664" r="3.6" style="stroke:#111;stroke-width:1.3"/>
<line x1="209.25" y1="664" x2="218.25" y2="664" style="stroke-width:0.8"/>
<line x1="213.75" y1="659.5" x2="213.75" y2="668.5" style="stroke-width:0.8"/>
<circle cx="232.5" cy="664" r="3.6" style="stroke:#111;stroke-width:1.3"/>
<line x1="228.0" y1="664" x2="237.0" y2="664" style="stroke-width:0.8"/>
<line x1="232.5" y1="659.5" x2="232.5" y2="668.5" style="stroke-width:0.8"/>
<ellipse cx="223" cy="664" rx="2" ry="4" style="stroke-width:1"/>
<path d="M279.5,605 L302.5,605 L302.5,645 L279.5,645 Q277,625 279.5,605 Z" style="stroke:#222;stroke-width:1.2"/>
<line x1="281" y1="605" x2="281" y2="645"/>
<line x1="279.5" y1="618.75" x2="302.5" y2="618.75"/>
<path d="M292,624 Q289,624 289,626.5 Q289,629 292,629 M292,631 Q289,631 289,633.5 Q289,636 292,636" style="stroke-width:1"/>
<rect x="313.75" y="589.5" width="16.25" height="88.0" style="stroke:#222;stroke-width:1.5"/>
<rect x="330" y="590" width="4" height="85.5" style="fill:#999;stroke:#666;stroke-width:0.7"/>
<rect x="315.5" y="591" width="13.0" height="85" style="stroke-width:0.9"/>
<line x1="315.5" y1="613.75" x2="328.5" y2="613.75"/>
<line x1="315.5" y1="635" x2="328.5" y2="635"/>
<line x1="315.5" y1="655" x2="328.5" y2="655"/>
<path d="M315.5,613.75 L328.5,591 M315.5,613.75 L328.5,635 M328.5,635 L315.5,655 M315.5,655 L328.5,676" style="stroke-width:0.9"/>
<rect x="313.75" y="675.5" width="16.25" height="2.5" style="fill:#aaa;stroke:none"/>
<ellipse cx="331.5" cy="632" rx="2" ry="6" style="fill:#333;stroke:none"/>
<rect x="145" y="561" width="31" height="28.6" style="stroke:#111;stroke-width:1.8"/>
<circle cx="148.5" cy="585" r="2" style="stroke-width:0.9"/>
</g>
<g class="f">
<line x1="587.5" y1="622.5" x2="643.5" y2="622.5" style="stroke:#666;stroke-width:1"/>
<rect x="592" y="623.75" width="46" height="18.15" style="stroke:#111;stroke-width:1.9"/>
<line x1="615" y1="623.75" x2="615" y2="641.9"/>
<path d="M592,623.75 L615,641.9 L638,623.75" style="stroke-width:1.1"/>
</g>
<path d="M345.7,689 L351.7,682 L357.7,689 L357.7,697 L345.7,697 Z" style="fill:#111;stroke:none"/>
<path d="M346,690.5h11.5M346,692.5h11.5M346,694.5h11.5" style="stroke:#666;stroke-width:0.6"/>
<g class="red">
<path d="M325.5,746.5 L325.5,774.5"/>
<path d="M322,759 L310,759 A7.75,7.75 0 0 0 310,774.5 L342,774.5 A8.5,8.5 0 0 1 342,791.5 L302,791.5"/>
<path d="M329,759 L349.5,759"/>
</g>
<text x="301.5" y="805.8" textLength="50.5" lengthAdjust="spacing" style="font-family:Liberation Sans,sans-serif;font-weight:bold;font-size:5.6px;fill:#e01010">SHANGSHAN</text>
<text x="301.5" y="813.2" textLength="50.5" lengthAdjust="spacing" style="font-family:Liberation Sans,sans-serif;font-weight:bold;font-size:5.6px;fill:#e01010">MEIJU</text>
<g class="red" style="stroke-linecap:round;stroke-linejoin:round">
<path d="M385.1,755.5 L385.1,802.7 M385.1,768.4 L398.4,768.4 M372.6,802.9 L398.8,802.9"/>
<path d="M410,755.5 L410,760.9 M428.4,755.5 L428.4,760.9 M405.4,760.9 L432.1,760.9 M419.2,760.9 L419.2,785 M407.2,768 L430.3,768 M405.4,775 L432.1,775 M410,779.5 L410,785 M428.4,779.5 L428.4,785 M405.4,785 L432.1,785"/>
<rect x="408.2" y="791.1" width="21.9" height="12.3" rx="1.5"/>
<path d="M442.75,755.5 L442.75,760.9 M461.6,755.5 L461.6,760.9 M438.4,760.9 L465,760.9 M452,760.9 L452,788.5 M438.4,769.7 L465,769.7 M438.4,779.3 L465,779.3 M438.4,788.5 L465,788.5 M452,788.5 L439.2,803.6 M452,788.5 L464.6,803.6"/>
<path d="M472.5,803.6 L474.3,758 Q474.3,756.6 476,756.6 L495.5,756.6 Q497,756.6 497,758 L497,766.5 Q497,768 495.5,768 L474.3,768 M488.7,772.3 L488.7,788.5 M478.6,778 L498.7,778"/>
<rect x="479.5" y="788.5" width="17.9" height="15.3" rx="1.5"/>
</g>
<g style="font-family:Liberation Sans,sans-serif;fill:#111;stroke:#111;stroke-width:0.25">
<text x="168" y="333.5" transform="rotate(-90 168 333.5)" style="font-size:8.3px" text-anchor="middle">ck:967</text>
<text x="181.5" y="331.5" transform="rotate(-90 181.5 331.5)" style="font-size:8.3px" text-anchor="middle">ch:1428</text>
<text x="168" y="414" transform="rotate(-90 168 414)" style="font-size:8.3px" text-anchor="middle">ck:983</text>
<text x="183" y="412" transform="rotate(-90 183 412)" style="font-size:8.3px" text-anchor="middle">ch:1484</text>
<text x="659" y="482.5" transform="rotate(90 659 482.5)" style="font-size:8.3px" text-anchor="middle">ch:1630</text>
<text x="672.5" y="480.5" transform="rotate(90 672.5 480.5)" style="font-size:8.3px" text-anchor="middle">ck:730</text>
<text x="624.5" y="208" transform="rotate(90 624.5 208)" style="font-size:8.3px" text-anchor="middle">ck:567</text>
<text x="641" y="208" transform="rotate(90 641 208)" style="font-size:8.3px" text-anchor="middle">ch:1496</text>
<text x="118" y="545" transform="rotate(-90 118 545)" style="font-size:8.3px" text-anchor="middle">ck:72</text>
<text x="131.5" y="545" transform="rotate(-90 131.5 545)" style="font-size:8.3px" text-anchor="middle">ch:1616</text>
<text x="118" y="635" transform="rotate(-90 118 635)" style="font-size:8.3px" text-anchor="middle">ck:5</text>
<text x="131.5" y="635" transform="rotate(-90 131.5 635)" style="font-size:8.3px" text-anchor="middle">ch:1463</text>
<text x="194" y="199" transform="rotate(-90 194 199)" style="font-size:8.3px" text-anchor="middle">ck:567</text>
<text x="206.5" y="198" transform="rotate(-90 206.5 198)" style="font-size:8.3px" text-anchor="middle">ch:1496</text>
</g>
<g style="fill:none;stroke:#1a1a1a;stroke-width:1.1">
<path d="M157.5,517 V526 M157.5,517.5 L169.5,516.8 M160,519.5 H166 M160,522 H168 M163,518 V525.5 M160,525 H169 M167,518.5 L169,521"/>
<path d="M157,527 V535 M159.5,528 H169.5 V534.5 H159.5 Z M159.5,530.3 H169.5 M159.5,532.3 H169.5"/>
<path d="M157,562 L160,563.5 M157,565 L160,566 M159,568.5 L157,570 M161,562.5 H170 M163,562 V570 M166,562 V566 L169.5,569 M161,566 H169"/>
<path d="M156.5,575 H170 M163,571 V579 M159,572 L168,578.5 M168,571.5 L158,578 M161,575 L157.5,579"/>
<path d="M156.5,583 H170 M163,580 V588 M160,580.5 L158,582.5 M166,580.5 L168.5,583 M159.5,585 H169 M159.5,585 V588 M169,585 V588"/>
</g>
<polygon points="129.5,192.2 202.5,192.2 202.5,184.5 217,199 202.5,213.5 202.5,205.8 129.5,205.8" class="ar"/>
<polygon points="102,294 175,294 175,287.3 189.5,301 175,314.7 175,308 102,308" class="ar"/>
<polygon points="102,417 175,417 175,410.8 189.5,424 175,437.2 175,431 102,431" class="ar"/>
<polygon points="42.5,513.8 116,513.8 116,507.7 132,521 116,534.3 116,528.2 42.5,528.2" class="ar"/>
<polygon points="42.5,541.3 116,541.3 116,535.0 132,548.5 116,562.0 116,555.7 42.5,555.7" class="ar"/>
<polygon points="42.5,629.3 116,629.3 116,623.1 132,636.5 116,649.9 116,643.7 42.5,643.7" class="ar"/>
<polygon points="695,187.8 635,187.8 635,182.8 624,193.8 635,204.8 635,199.8 695,199.8" class="ar"/>
<polygon points="695,213.2 635,213.2 635,208.2 624,219.2 635,230.2 635,225.2 695,225.2" class="ar"/>
<polygon points="695,240.8 635,240.8 635,235.8 624,246.8 635,257.8 635,252.8 695,252.8" class="ar"/>
<polygon points="728,369.2 671,369.2 671,364 659,375 671,386 671,380.8 728,380.8" class="ar"/>
<polygon points="728,406.2 671,406.2 671,401 659,412 671,423 671,417.8 728,417.8" class="ar"/>
<polygon points="728,438.7 671,438.7 671,433.5 659,444.5 671,455.5 671,450.3 728,450.3" class="ar"/>
<polygon points="729.5,514.7 671,514.7 671,509.2 660,520 671,530.8 671,525.3 729.5,525.3" class="ar"/>
<polygon points="729.5,542.2 671,542.2 671,536.7 660,547.5 671,558.3 671,552.8 729.5,552.8" class="ar"/>
<polygon points="729.5,574.2 671,574.2 671,568.7 660,579.5 671,590.3 671,584.8 729.5,584.8" class="ar"/>
</svg></body></html>
